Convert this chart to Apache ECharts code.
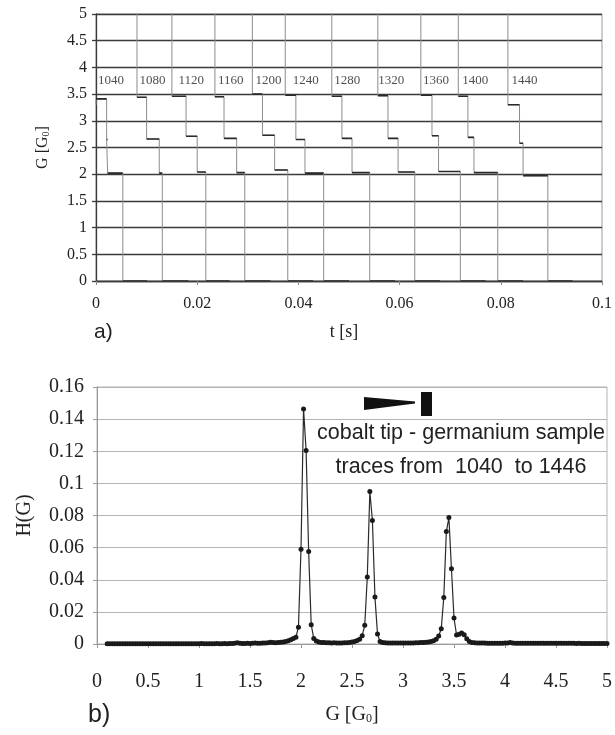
<!DOCTYPE html>
<html><head><meta charset="utf-8">
<script src="https://cdn.jsdelivr.net/npm/echarts@6/dist/echarts.min.js"></script>
<style>html,body{margin:0;padding:0;background:#fff}#c{width:615px;height:735px}</style>
</head><body><div id="c"></div>
<script>
// ---- panel a) : conductance traces ----
const traceLabels = ['1040','1080','1120','1160','1200','1240','1280','1320','1360','1400','1440'];
const labelT  = [0.0004,0.0086,0.0163,0.0241,0.0315,0.0389,0.0471,0.0558,0.0646,0.0724,0.0821];
const tStart  = [0.0000,0.0081,0.0150,0.0235,0.0309,0.0374,0.0466,0.0557,0.0642,0.0716,0.0814];
const tDrop1  = [0.0021,0.0100,0.0178,0.0253,0.0329,0.0395,0.0486,0.0577,0.0664,0.0735,0.0837];
const tDrop2  = [0.0023,0.0125,0.0200,0.0278,0.0353,0.0413,0.0506,0.0597,0.0677,0.0747,0.0844];
const tDrop3  = [0.0053,0.0131,0.0217,0.0294,0.0379,0.0450,0.0541,0.0630,0.0720,0.0794,0.0893];
const tEnd    = [0.0101,0.0183,0.0264,0.0345,0.0429,0.0500,0.0591,0.0680,0.0770,0.0844,0.0942];
const gStart  = [3.30,5.5,5.5,5.5,5.5,5.5,5.5,5.5,5.5,5.5,5.5];
const g3      = [3.41,3.44,3.46,3.45,3.50,3.48,3.46,3.47,3.48,3.46,3.30];
const g2      = [2.65,2.66,2.71,2.67,2.73,2.65,2.67,2.67,2.72,2.69,2.58];
const g1      = [2.02,2.02,2.04,2.03,2.08,2.02,2.03,2.04,2.05,2.03,1.97];
const labelG  = 3.76;

// ---- panel b) : conductance histogram ----
const gBinStart = 0.1, gBinStep = 0.025;
const hValues = [
 0.0002,0.0002,0.0002,0.0002,0.0002,0.0002,0.0002,0.0002,0.0002,0.0002, // 0.100-0.325
 0.0002,0.0002,0.0002,0.0002,0.0002,0.0002,0.0002,0.0002,0.0002,0.0002, // 0.35-0.575
 0.0002,0.0002,0.0002,0.0002,0.0002,0.0002,0.0002,0.0002,0.0002,0.0002, // 0.6-0.825
 0.0002,0.0002,0.0002,0.0002,0.0002,0.0002,0.0002,0.0003,0.0002,0.0002, // 0.85-1.075
 0.0002,0.0002,0.0002,0.0003,0.0002,0.0002,0.0003,0.0002,0.0003,0.0003, // 1.1-1.325
 0.0005,0.0008,0.0005,0.0003,0.0003,0.0004,0.0003,0.0004,0.0006,0.0004, // 1.35-1.575
 0.0005,0.0006,0.0007,0.0008,0.0011,0.0009,0.0008,0.0010,0.0011,0.0013, // 1.6-1.825
 0.0016,0.0020,0.0026,0.0035,0.0042,0.0105,0.0590,0.1463,0.1204,0.0576, // 1.85-2.075
 0.0120,0.0035,0.0018,0.0012,0.0010,0.0009,0.0008,0.0008,0.0007,0.0008, // 2.1-2.325
 0.0007,0.0006,0.0007,0.0008,0.0008,0.0010,0.0012,0.0016,0.0022,0.0030, // 2.35-2.575
 0.0052,0.0116,0.0417,0.0949,0.0769,0.0292,0.0062,0.0016,0.0009,0.0008, // 2.6-2.825
 0.0007,0.0007,0.0007,0.0006,0.0007,0.0007,0.0006,0.0007,0.0007,0.0007, // 2.85-3.075
 0.0007,0.0008,0.0008,0.0009,0.0010,0.0011,0.0013,0.0015,0.0020,0.0030, // 3.1-3.325
 0.0050,0.0095,0.0290,0.0700,0.0787,0.0468,0.0162,0.0056,0.0060,0.0068, // 3.35-3.575
 0.0058,0.0032,0.0016,0.0010,0.0008,0.0007,0.0006,0.0006,0.0006,0.0005, // 3.6-3.825
 0.0005,0.0005,0.0005,0.0005,0.0005,0.0005,0.0006,0.0007,0.0009,0.0006, // 3.85-4.075
 0.0005,0.0005,0.0004,0.0004,0.0005,0.0004,0.0004,0.0004,0.0004,0.0004, // 4.1-4.325
 0.0004,0.0004,0.0004,0.0004,0.0004,0.0004,0.0004,0.0004,0.0004,0.0004, // 4.35-4.575
 0.0004,0.0004,0.0004,0.0004,0.0003,0.0004,0.0003,0.0003,0.0003,0.0003, // 4.6-4.825
 0.0003,0.0003,0.0003,0.0003,0.0003,0.0003,0.0003                       // 4.85-5.0
];
const annotation = ['cobalt tip - germanium sample', 'traces from  1040  to 1446'];

const serif = '"Liberation Serif","Times New Roman",serif';
const sans = '"Liberation Sans",Arial,sans-serif';

const series = [];
for (let i = 0; i < traceLabels.length; i++) {
  series.push({
    type: 'line', xAxisIndex: 0, yAxisIndex: 0, showSymbol: false, symbol: 'none',
    silent: true, animation: false, clip: true,
    lineStyle: { color: '#8c8c8c', width: 1 },
    data: [[tStart[i], gStart[i]], [tStart[i], g3[i]], [tDrop1[i], g3[i]], [tDrop1[i], g2[i]],
           [tDrop2[i], g2[i]], [tDrop2[i], g1[i]], [tDrop3[i], g1[i]], [tDrop3[i], 0], [tEnd[i], 0]]
  });
  series.push({
    type: 'line', xAxisIndex: 0, yAxisIndex: 0, showSymbol: false, symbol: 'none',
    silent: true, animation: false, connectNulls: false,
    lineStyle: { color: '#2a2a2a', width: 1.6 },
    data: [[tStart[i], g3[i]], [tDrop1[i], g3[i]], [tDrop1[i], '-'],
           [tDrop1[i], g2[i]], [tDrop2[i], g2[i]], [tDrop2[i], '-'],
           [tDrop2[i], g1[i]], [tDrop3[i], g1[i]], [tDrop3[i], '-'],
           [tDrop3[i], 0], [tEnd[i], 0]]
  });
}
series.push({
  type: 'scatter', xAxisIndex: 0, yAxisIndex: 0, symbolSize: 0, silent: true, animation: false,
  data: traceLabels.map((n, i) => ({ value: [labelT[i], labelG], name: n })),
  label: { show: true, position: 'right', distance: 0, formatter: p => p.name,
           fontFamily: serif, fontSize: 13, color: '#222' }
});
series.push({
  type: 'line', xAxisIndex: 1, yAxisIndex: 1, animation: false, silent: true,
  symbol: 'circle', symbolSize: 5,
  itemStyle: { color: '#1a1a1a' },
  lineStyle: { color: '#2a2a2a', width: 1.2 },
  data: hValues.map((h, i) => [+(gBinStart + i * gBinStep).toFixed(3), h])
});

const chart = echarts.init(document.getElementById('c'), null, { renderer: 'canvas' });
chart.setOption({
  backgroundColor: '#fff',
  animation: false,
  grid: [
    { left: 96, right: 5, top: 14, height: 267, show: true, borderColor: '#9a9a9a', borderWidth: 1 },
    { left: 97, right: 4, top: 387, height: 257, show: true, borderColor: '#b4b4b4', borderWidth: 1 }
  ],
  xAxis: [
    { gridIndex: 0, type: 'value', min: 0, max: 0.1, interval: 0.02,
      name: 't [s]', nameLocation: 'middle', nameGap: 42,
      nameTextStyle: { fontFamily: serif, fontSize: 18, color: '#222', padding: [0, 10, 0, 0] },
      axisLine: { lineStyle: { color: '#3a3a3a', width: 1.3 } },
      axisTick: { show: true, length: 4, lineStyle: { color: '#888' } },
      splitLine: { show: false },
      axisLabel: { fontFamily: serif, fontSize: 16, color: '#222', margin: 15 } },
    { gridIndex: 1, type: 'value', min: 0, max: 5, interval: 0.5,
      name: 'G [G{s|0}]', nameLocation: 'middle', nameGap: 60,
      nameTextStyle: { fontFamily: serif, fontSize: 20, color: '#222',
        rich: { s: { fontFamily: serif, fontSize: 12, color: '#222', padding: [9, 0, 0, 0] } } },
      axisLine: { lineStyle: { color: '#9a9a9a' } },
      axisTick: { show: true, length: 4, lineStyle: { color: '#9a9a9a' } },
      splitLine: { show: false },
      axisLabel: { fontFamily: serif, fontSize: 20, color: '#222', margin: 28 } }
  ],
  yAxis: [
    { gridIndex: 0, type: 'value', min: 0, max: 5, interval: 0.5,
      name: 'G [G{s|0}]', nameLocation: 'middle', nameGap: 45,
      nameTextStyle: { fontFamily: serif, fontSize: 16, color: '#222',
        rich: { s: { fontFamily: serif, fontSize: 10, color: '#222', padding: [7, 0, 0, 0] } } },
      axisLine: { show: true, lineStyle: { color: '#3a3a3a', width: 1.3 } },
      axisTick: { show: true, length: 4, lineStyle: { color: '#3a3a3a', width: 1.3 } },
      splitLine: { show: true, lineStyle: { color: '#3a3a3a', width: 1.3 } },
      axisLabel: { fontFamily: serif, fontSize: 16, color: '#222', margin: 9 } },
    { gridIndex: 1, type: 'value', min: 0, max: 0.16, interval: 0.02,
      name: 'H(G)', nameLocation: 'middle', nameGap: 62,
      nameTextStyle: { fontFamily: serif, fontSize: 20, color: '#222' },
      axisLine: { show: true, lineStyle: { color: '#9a9a9a' } },
      axisTick: { show: true, length: 4, lineStyle: { color: '#9a9a9a' } },
      splitLine: { show: true, lineStyle: { color: '#b4b4b4' } },
      axisLabel: { fontFamily: serif, fontSize: 20, color: '#222', margin: 13 } }
  ],
  graphic: [
    { type: 'text', x: 94, y: 332, style: { text: 'a)', font: '21px ' + sans, fill: '#222', textVerticalAlign: 'middle' } },
    { type: 'text', x: 88, y: 715, style: { text: 'b)', font: '25px ' + sans, fill: '#222', textVerticalAlign: 'middle' } },
    { type: 'text', x: 461, y: 450, style: { text: annotation.join('\n'), font: '21.5px ' + sans, fill: '#222',
      textAlign: 'center', textVerticalAlign: 'middle', lineHeight: 34 } },
    { type: 'polygon', shape: { points: [[364, 397], [415, 401.5], [415, 403.5], [364, 410]] }, style: { fill: '#111' } },
    { type: 'rect', shape: { x: 421, y: 392, width: 11, height: 24 }, style: { fill: '#111' } }
  ],
  series: series
});
</script>
</body></html>
